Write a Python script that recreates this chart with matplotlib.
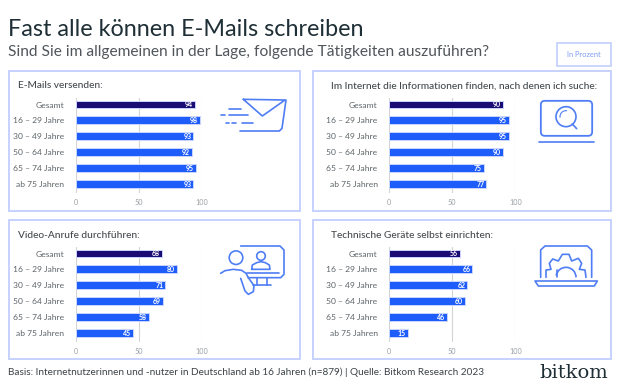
import matplotlib
matplotlib.use("Agg")
import matplotlib.pyplot as plt
from matplotlib.patches import Rectangle, FancyBboxPatch, Circle, Arc, Polygon

plt.rcParams['font.family'] = ['Lato', 'DejaVu Sans']

TITLE = "Fast alle können E-Mails schreiben"
SUBTITLE = "Sind Sie im allgemeinen in der Lage, folgende Tätigkeiten auszuführen?"
UNIT = "In Prozent"
FOOTER = "Basis: Internetnutzerinnen und -nutzer in Deutschland ab 16 Jahren (n=879) | Quelle: Bitkom Research 2023"
categories = ["Gesamt", "16 – 29 Jahre", "30 – 49 Jahre", "50 – 64 Jahre", "65 – 74 Jahre", "ab 75 Jahren"]
email_values = [94, 98, 93, 92, 95, 93]
internet_values = [90, 95, 95, 90, 75, 77]
video_values = [68, 80, 71, 69, 58, 45]
technik_values = [56, 66, 62, 60, 46, 15]
x_ticks = [0, 50, 100]

NAVY = '#1b0b74'
BLUE = '#1f5dfb'
FRAME = '#c6d2fd'
ICON = '#4f7df5'
W, H = 620, 390

fig = plt.figure(figsize=(W / 100, H / 100), dpi=100, facecolor='white')
bg = fig.add_axes([0, 0, 1, 1])
bg.set_xlim(0, W)
bg.set_ylim(H, 0)
bg.axis('off')

bg.text(8, 29, TITLE, fontsize=16.85, color='#1f2f36', va='center', ha='left')
bg.text(8, 52, SUBTITLE, fontsize=11.2, color='#50565a', va='center', ha='left')
bg.add_patch(Rectangle((557, 43), 54, 23, fill=False, ec=FRAME, lw=1.3))
bg.text(584, 54.5, UNIT, fontsize=5.4, color='#7f9cf5', va='center', ha='center')
bg.text(8, 372, FOOTER, fontsize=7.2, color='#3c4347', va='center', ha='left')
bg.text(608, 373, "bitkom", fontsize=14, color='#1f2f36', va='center', ha='right', family='DejaVu Serif')

panels = [
    ("E-Mails versenden:", email_values, 8.5, 70.5, 291, 140, 75.5, 98, 18),
    ("Im Internet die Informationen finden, nach denen ich suche:", internet_values, 313, 70.5, 298, 140, 388.7, 98, 331),
    ("Video-Anrufe durchführen:", video_values, 8.5, 220, 291, 139, 75.5, 247, 18),
    ("Technische Geräte selbst einrichten:", technik_values, 313, 220, 298, 139, 388.7, 247, 331),
]

for name, values, px, py, pw, ph, x0, ytop, tx in panels:
    bg.add_patch(Rectangle((px, py), pw, ph, fill=False, ec=FRAME, lw=1.4))
    bg.text(tx, py + 15.5, name, fontsize=7.3, color='#44494d', va='center', ha='left', fontweight='medium')
    ax = fig.add_axes([x0 / W, 1 - (ytop + 95) / H, 126.7 / W, 95 / H])
    ax.patch.set_alpha(0)
    ax.set_xlim(0, 100)
    ax.set_ylim(5.57, -0.41)
    ypos = list(range(len(categories)))
    colors = [NAVY] + [BLUE] * (len(categories) - 1)
    ax.barh(ypos, values, height=0.5, color=colors, edgecolor='#c9d6fe', linewidth=0.7, zorder=3)
    for i, v in enumerate(values):
        ax.text(v - 1.5, i + 0.02, str(v), color='white', fontsize=5.0, fontweight='bold',
                va='center', ha='right', zorder=4)
    ax.set_xticks(x_ticks)
    ax.set_yticks(ypos)
    ax.set_yticklabels(categories, fontsize=6.1, color='#5d6367')
    ax.set_xticklabels([str(t) for t in x_ticks], fontsize=5.2, color='#9a9fa3')
    ax.tick_params(axis='both', length=0)
    ax.tick_params(axis='y', pad=8)
    ax.tick_params(axis='x', pad=4)
    ax.grid(axis='x', color='#d4d4d4', lw=0.8, zorder=0)
    ax.set_axisbelow(True)
    for s in ax.spines.values():
        s.set_visible(False)


def line(zx, zy, ox, oy, lw=1.2, close=False):
    xs = [ox + v / 3 for v in zx]
    ys = [oy + v / 3 for v in zy]
    if close:
        xs.append(xs[0])
        ys.append(ys[0])
    bg.plot(xs, ys, color=ICON, lw=lw, solid_capstyle='round', solid_joinstyle='round')


# envelope icon
o = (0, 60)
line([730, 855, 787], [118, 120, 168], *o, close=True)
line([858, 846, 838, 720], [120, 205, 213, 213], *o)
line([688, 724], [146, 146], *o)
line([662, 676], [166, 166], *o)
line([686, 745], [166, 166], *o)
line([677, 687], [188, 188], *o)
line([697, 707], [188, 188], *o)
line([725, 760], [188, 188], *o)

# magnifier icon
o = (310, 60)
bg.add_patch(FancyBboxPatch((310 + 700 / 3, 60 + 130 / 3), 139 / 3, 90 / 3,
                            boxstyle="round,pad=2.5,rounding_size=4", fill=False, ec=ICON, lw=1.3))
line([688, 852], [245, 245], *o)
bg.add_patch(Circle((310 + 768 / 3, 60 + 170 / 3), 10, fill=False, ec=ICON, lw=1.2))
bg.add_patch(Arc((310 + 768 / 3, 60 + 170 / 3), 12, 12, theta1=170, theta2=280, ec=ICON, lw=0.8))
line([787, 800], [192, 206], *o)

# video call icon
o = (0, 215)
bg.add_patch(Circle((708 / 3, 215 + 128 / 3), 6.8, fill=False, ec=ICON, lw=1.2))
bg.add_patch(Circle((783 / 3, 215 + 123 / 3), 4.3, fill=False, ec=ICON, lw=1.2))
line([662, 675, 700, 725, 738, 745], [175, 167, 163, 166, 175, 188], *o)
line([722, 735, 745, 760, 762, 745], [190, 228, 238, 230, 212, 188], *o)
line([722, 840, 852, 852, 842, 745], [93, 93, 105, 178, 188, 188], *o)
line([740, 838], [175, 175], *o)
line([755, 757, 770, 783, 796, 808, 810, 755], [163, 150, 143, 140, 143, 150, 163, 163], *o)
line([770, 770], [188, 210], *o)
line([800, 800], [188, 210], *o)
line([758, 812], [210, 210], *o)

# laptop with gear icon
o = (310, 215)
line([692, 692, 705, 832, 845, 845], [187, 105, 93, 93, 105, 187], *o)
bg.add_patch(Polygon([(310 + a / 3, 215 + b / 3) for a, b in [(675, 198), (862, 198), (853, 213), (685, 213)]],
                     closed=True, fill=False, ec=ICON, lw=1.2, joinstyle='round'))
line([708, 708, 723, 718, 728, 745, 757, 777, 785, 805, 815, 808, 825, 828],
     [187, 165, 163, 145, 132, 138, 118, 118, 138, 130, 145, 163, 165, 187], *o)
line([740, 740], [187, 165], *o)
bg.add_patch(Arc((310 + 768 / 3, 215 + 187 / 3), 20, 20, theta1=190, theta2=360, ec=ICON, lw=1.2))

fig.savefig("out.png", dpi=100, facecolor='white')
